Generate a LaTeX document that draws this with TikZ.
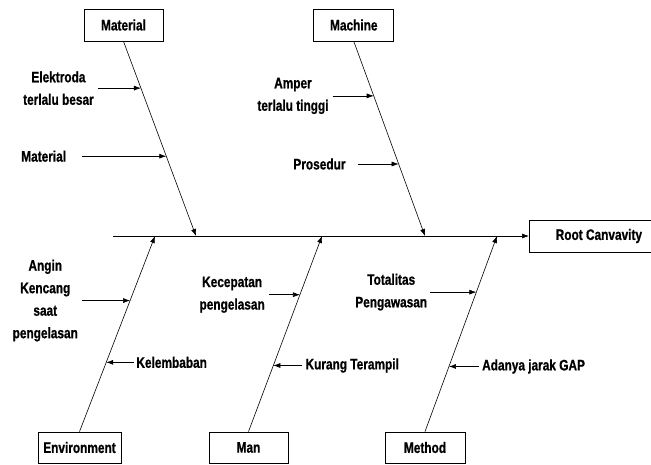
\documentclass[tikz,border=0pt]{standalone}
\usepackage{fontspec}
\setmainfont{Liberation Sans}[FakeStretch=0.78, BoldFeatures={FakeBold=0.8}]
\usetikzlibrary{arrows.meta,positioning}

\begin{document}
\begin{tikzpicture}[
    x=1pt,
    y=-1pt,
    >={Latex[length=7pt,width=5pt]},
    font=\bfseries\fontsize{15.2}{22.5}\selectfont,
    category/.style={
		rectangle,
		draw=black,
		line width=0.8pt,
		text centered,
		minimum height=32pt,
		minimum width=80pt,
		inner sep=2pt,
		fill=white
	},
	cause/.style={
		align=center,
		inner xsep=4pt,
		inner ysep=0pt
	},
	bone/.style={
		draw,
		->,
		line width=0.6pt
	}
  ]
\useasboundingbox (0,0) rectangle (651,465);

% // The head and the spine
\node [category, anchor=west, minimum width=139pt] (root) at (529,236) {Root Canvavity};
\coordinate (tail) at (113,236);
\draw [bone] (tail) -- (root);

\coordinate (s1) at (196,236);
\coordinate (s2) at (425,236);
\coordinate (s3) at (155,236);
\coordinate (s4) at (322,236);
\coordinate (s5) at (497,236);

% // The categories
\node [category, minimum width=79pt] (material) at (123.5,25) {Material};
\node [category, right=150pt of material] (machine) {Machine};
\node [category, minimum width=83pt, minimum height=31pt] (environment) at (79.5,447.5) {Environment};
\node [category, minimum width=79pt, minimum height=31pt] (man) at (248.5,447.5) {Man};
\node [category, minimum height=31pt] (method) at (425,447.5) {Method};

% // The bones
\draw [bone] (material.south) -- (s1) coordinate [pos=0.24] (b11) coordinate [pos=0.59] (b12);
\draw [bone] (machine.south) -- (s2) coordinate [pos=0.28] (b21) coordinate [pos=0.63] (b22);
\draw [bone] (environment.north) -- (s3) coordinate [pos=0.67] (b31) coordinate [pos=0.354] (b32);
\draw [bone] (man.north) -- (s4) coordinate [pos=0.70] (b41) coordinate [pos=0.338] (b42);
\draw [bone] (method.north) -- (s5) coordinate [pos=0.713] (b51) coordinate [pos=0.333] (b52);

% // The causes
\node [cause, left=43pt of b11] (elektroda) {Elektroda\\terlalu besar};
\node [cause, left=84pt of b12, inner xsep=16pt] (bahan) {Material};
\node [cause, left=41pt of b21] (amper) {Amper\\terlalu tinggi};
\node [cause, left=41pt of b22, inner xsep=12pt] (prosedur) {Prosedur};
\node [cause, left=48pt of b31] (angin) {Angin\\Kencang\\saat\\pengelasan};
\node [cause, right=28pt of b32, inner xsep=2pt] (kelembaban) {Kelembaban};
\node [cause, left=31pt of b41] (kecepatan) {Kecepatan\\pengelasan};
\node [cause, right=29pt of b42, inner xsep=3pt] (terampil) {Kurang Terampil};
\node [cause, left=46pt of b51, inner xsep=3pt] (totalitas) {Totalitas\\Pengawasan};
\node [cause, right=30pt of b52, inner xsep=3pt] (jarak) {Adanya jarak GAP};

\draw [bone] (elektroda) -- (b11);
\draw [bone] (bahan) -- (b12);
\draw [bone] (amper) -- (b21);
\draw [bone] (prosedur) -- (b22);
\draw [bone] (angin) -- (b31);
\draw [bone] (kelembaban) -- (b32);
\draw [bone] (kecepatan) -- (b41);
\draw [bone] (terampil) -- (b42);
\draw [bone] (totalitas) -- (b51);
\draw [bone] (jarak) -- (b52);

\end{tikzpicture}
\end{document}
